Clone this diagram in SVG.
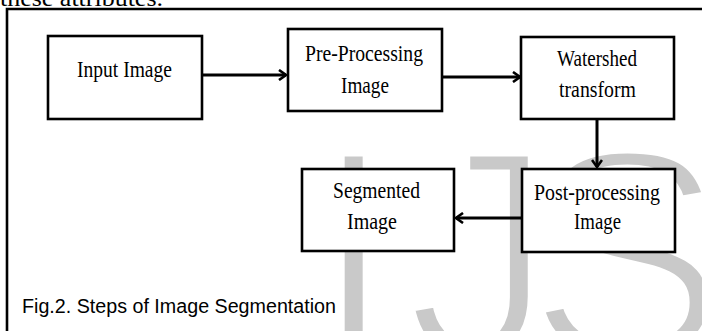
<svg xmlns="http://www.w3.org/2000/svg" width="702" height="331" viewBox="0 0 702 331">
<style>
.box{fill:#fff;stroke:#000;stroke-width:2.6}
.lbl{font-family:"Liberation Serif","Times New Roman",serif;font-size:23px;fill:#000}
.edge{stroke:#000;stroke-width:3;fill:none}
.cap{font-family:"Liberation Sans",Arial,sans-serif;font-size:20px;fill:#000}
.wm{font-family:"Liberation Sans",Arial,sans-serif;font-size:300px;fill:#c9c9c9;stroke:#fff;stroke-width:10}
</style>
<defs>
<marker id="ah" markerWidth="10" markerHeight="12" refX="8" refY="6" orient="auto" markerUnits="userSpaceOnUse">
<path d="M1,1 L8,6 L1,11" fill="none" stroke="#000" stroke-width="2.6"/>
</marker>
</defs>
<rect width="702" height="331" fill="#fff"/>
<text class="lbl" x="0" y="6" textLength="163" lengthAdjust="spacingAndGlyphs">these attributes.</text>
<g id="watermark">
<text class="wm" y="358"><tspan x="312">I</tspan><tspan x="405">J</tspan><tspan x="526">S</tspan></text>
</g>
<path d="M7,331 V9 H702" fill="none" stroke="#000" stroke-width="2.6"/>
<g id="connectors">
<line class="edge" x1="202" y1="75" x2="286" y2="75" marker-end="url(#ah)"/>
<line class="edge" x1="442" y1="77" x2="520" y2="77" marker-end="url(#ah)"/>
<line class="edge" x1="597" y1="119" x2="597" y2="167" marker-end="url(#ah)"/>
<line class="edge" x1="522" y1="218" x2="456" y2="218" marker-end="url(#ah)"/>
</g>
<g id="input">
<rect class="box" x="48" y="36" width="154" height="83"/>
<text class="lbl" x="77" y="77" textLength="95" lengthAdjust="spacingAndGlyphs">Input Image</text>
</g>
<g id="preprocessing">
<rect class="box" x="288" y="29" width="154" height="82"/>
<text class="lbl" x="305" y="61" textLength="118" lengthAdjust="spacingAndGlyphs">Pre-Processing</text>
<text class="lbl" x="341" y="93" textLength="48" lengthAdjust="spacingAndGlyphs">Image</text>
</g>
<g id="watershed">
<rect class="box" x="521" y="37" width="153" height="82"/>
<text class="lbl" x="557" y="66" textLength="80" lengthAdjust="spacingAndGlyphs">Watershed</text>
<text class="lbl" x="559" y="97" textLength="77" lengthAdjust="spacingAndGlyphs">transform</text>
</g>
<g id="postprocessing">
<rect class="box" x="522" y="169" width="153" height="83"/>
<text class="lbl" x="534" y="200" textLength="126" lengthAdjust="spacingAndGlyphs">Post-processing</text>
<text class="lbl" x="574" y="229" textLength="47" lengthAdjust="spacingAndGlyphs">Image</text>
</g>
<g id="segmented">
<rect class="box" x="302" y="169" width="152" height="82"/>
<text class="lbl" x="333" y="198" textLength="87" lengthAdjust="spacingAndGlyphs">Segmented</text>
<text class="lbl" x="347" y="229" textLength="50" lengthAdjust="spacingAndGlyphs">Image</text>
</g>
<text class="cap" x="22" y="313" textLength="314" lengthAdjust="spacingAndGlyphs">Fig.2. Steps of Image Segmentation</text>
</svg>
